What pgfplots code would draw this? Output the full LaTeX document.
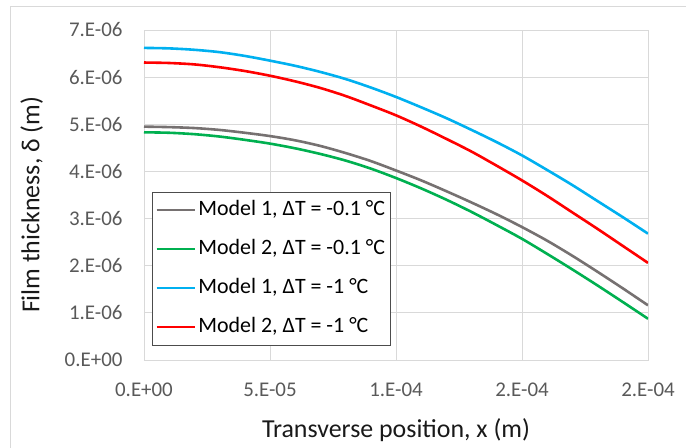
\documentclass[border=0pt]{standalone}
\usepackage{pgfplots}
\pgfplotsset{compat=1.18}
\usepackage{fontspec}
\setmainfont{Carlito}
\definecolor{gridgray}{RGB}{217,217,217}
\definecolor{tickgray}{RGB}{89,89,89}
\definecolor{mgray}{RGB}{118,113,113}
\definecolor{mgreen}{RGB}{0,176,80}
\definecolor{mblue}{RGB}{0,176,240}
\definecolor{mred}{RGB}{255,0,0}
\begin{document}
\begin{tikzpicture}
\path[use as bounding box] (-144bp,-88bp) rectangle (542bp,360bp);
\draw[gridgray, line width=0.8bp] (-134bp,-88bp) -- (-134bp,354bp) -- (542bp,354bp);
\begin{axis}[
  at={(0,0)}, anchor=south west,
  scale only axis, width=504bp, height=330bp,
  xmin=0, xmax=2e-4, ymin=0, ymax=7e-6,
  scaled x ticks=false, scaled y ticks=false,
  xtick={0,5e-5,1e-4,1.5e-4,2e-4},
  xticklabels={0.E+00,5.E-05,1.E-04,2.E-04,2.E-04},
  ytick={0,1e-6,2e-6,3e-6,4e-6,5e-6,6e-6,7e-6},
  yticklabels={0.E+00,1.E-06,2.E-06,3.E-06,4.E-06,5.E-06,6.E-06,7.E-06},
  major tick length=0pt,
  grid=major,
  major grid style={gridgray, line width=0.9bp},
  axis line style={gridgray, line width=0.9bp},
  xticklabel style={font=\fontsize{21}{24}\selectfont, text=tickgray, yshift=-19bp},
  yticklabel style={font=\fontsize{21}{24}\selectfont, text=tickgray, xshift=-18bp},
  xlabel={Transverse position, x (m)},
  ylabel={Film thickness, δ (m)},
  label style={font=\fontsize{26}{30}\selectfont, text=black!90},
  xlabel style={at={(axis description cs:0.5,0)}, anchor=base, yshift=-77bp},
  ylabel style={at={(axis description cs:-0.2077,0.47)}, anchor=base, rotate=0},
  legend cell align=left,
  legend style={at={(0.0159,0.51)}, anchor=north west, draw=black!70, line width=0.6bp,
    font=\fontsize{22}{26}\selectfont, row sep=13bp, inner xsep=3bp, inner ysep=5bp,
    nodes={inner sep=2.5bp, text height=16bp, text depth=5bp}},
  legend image code/.code={\draw[#1, line width=2.6bp] (0bp,0bp) -- (38bp,0bp);},
  every axis plot/.append style={line width=2.6bp, smooth, no markers},
]
\addplot[mgray] coordinates {
(0,4.95e-6) (1e-5,4.94e-6) (2e-5,4.92e-6) (3e-5,4.88e-6) (4e-5,4.82e-6)
(5e-5,4.75e-6) (6e-5,4.66e-6) (7e-5,4.54e-6) (8e-5,4.39e-6) (9e-5,4.22e-6)
(1e-4,4.02e-6) (1.1e-4,3.81e-6) (1.2e-4,3.58e-6) (1.3e-4,3.34e-6) (1.4e-4,3.09e-6)
(1.5e-4,2.82e-6) (1.6e-4,2.53e-6) (1.7e-4,2.21e-6) (1.8e-4,1.87e-6) (1.9e-4,1.52e-6)
(2e-4,1.16e-6)};
\addlegendentry{Model 1, ΔT = -0.1 °C}
\addplot[mgreen] coordinates {
(0,4.83e-6) (1e-5,4.82e-6) (2e-5,4.79e-6) (3e-5,4.74e-6) (4e-5,4.67e-6)
(5e-5,4.59e-6) (6e-5,4.49e-6) (7e-5,4.37e-6) (8e-5,4.23e-6) (9e-5,4.06e-6)
(1e-4,3.86e-6) (1.1e-4,3.64e-6) (1.2e-4,3.40e-6) (1.3e-4,3.14e-6) (1.4e-4,2.86e-6)
(1.5e-4,2.57e-6) (1.6e-4,2.25e-6) (1.7e-4,1.92e-6) (1.8e-4,1.58e-6) (1.9e-4,1.23e-6)
(2e-4,0.875e-6)};
\addlegendentry{Model 2, ΔT = -0.1 °C}
\addplot[mblue] coordinates {
(0,6.62e-6) (1e-5,6.61e-6) (2e-5,6.58e-6) (3e-5,6.53e-6) (4e-5,6.45e-6)
(5e-5,6.35e-6) (6e-5,6.24e-6) (7e-5,6.11e-6) (8e-5,5.96e-6) (9e-5,5.78e-6)
(1e-4,5.58e-6) (1.1e-4,5.36e-6) (1.2e-4,5.13e-6) (1.3e-4,4.88e-6) (1.4e-4,4.62e-6)
(1.5e-4,4.34e-6) (1.6e-4,4.03e-6) (1.7e-4,3.71e-6) (1.8e-4,3.37e-6) (1.9e-4,3.03e-6)
(2e-4,2.68e-6)};
\addlegendentry{Model 1, ΔT = -1 °C}
\addplot[mred] coordinates {
(0,6.31e-6) (1e-5,6.30e-6) (2e-5,6.27e-6) (3e-5,6.21e-6) (4e-5,6.13e-6)
(5e-5,6.03e-6) (6e-5,5.91e-6) (7e-5,5.77e-6) (8e-5,5.60e-6) (9e-5,5.40e-6)
(1e-4,5.19e-6) (1.1e-4,4.95e-6) (1.2e-4,4.69e-6) (1.3e-4,4.42e-6) (1.4e-4,4.12e-6)
(1.5e-4,3.81e-6) (1.6e-4,3.48e-6) (1.7e-4,3.13e-6) (1.8e-4,2.78e-6) (1.9e-4,2.42e-6)
(2e-4,2.06e-6)};
\addlegendentry{Model 2, ΔT = -1 °C}
\end{axis}
\end{tikzpicture}
\end{document}
